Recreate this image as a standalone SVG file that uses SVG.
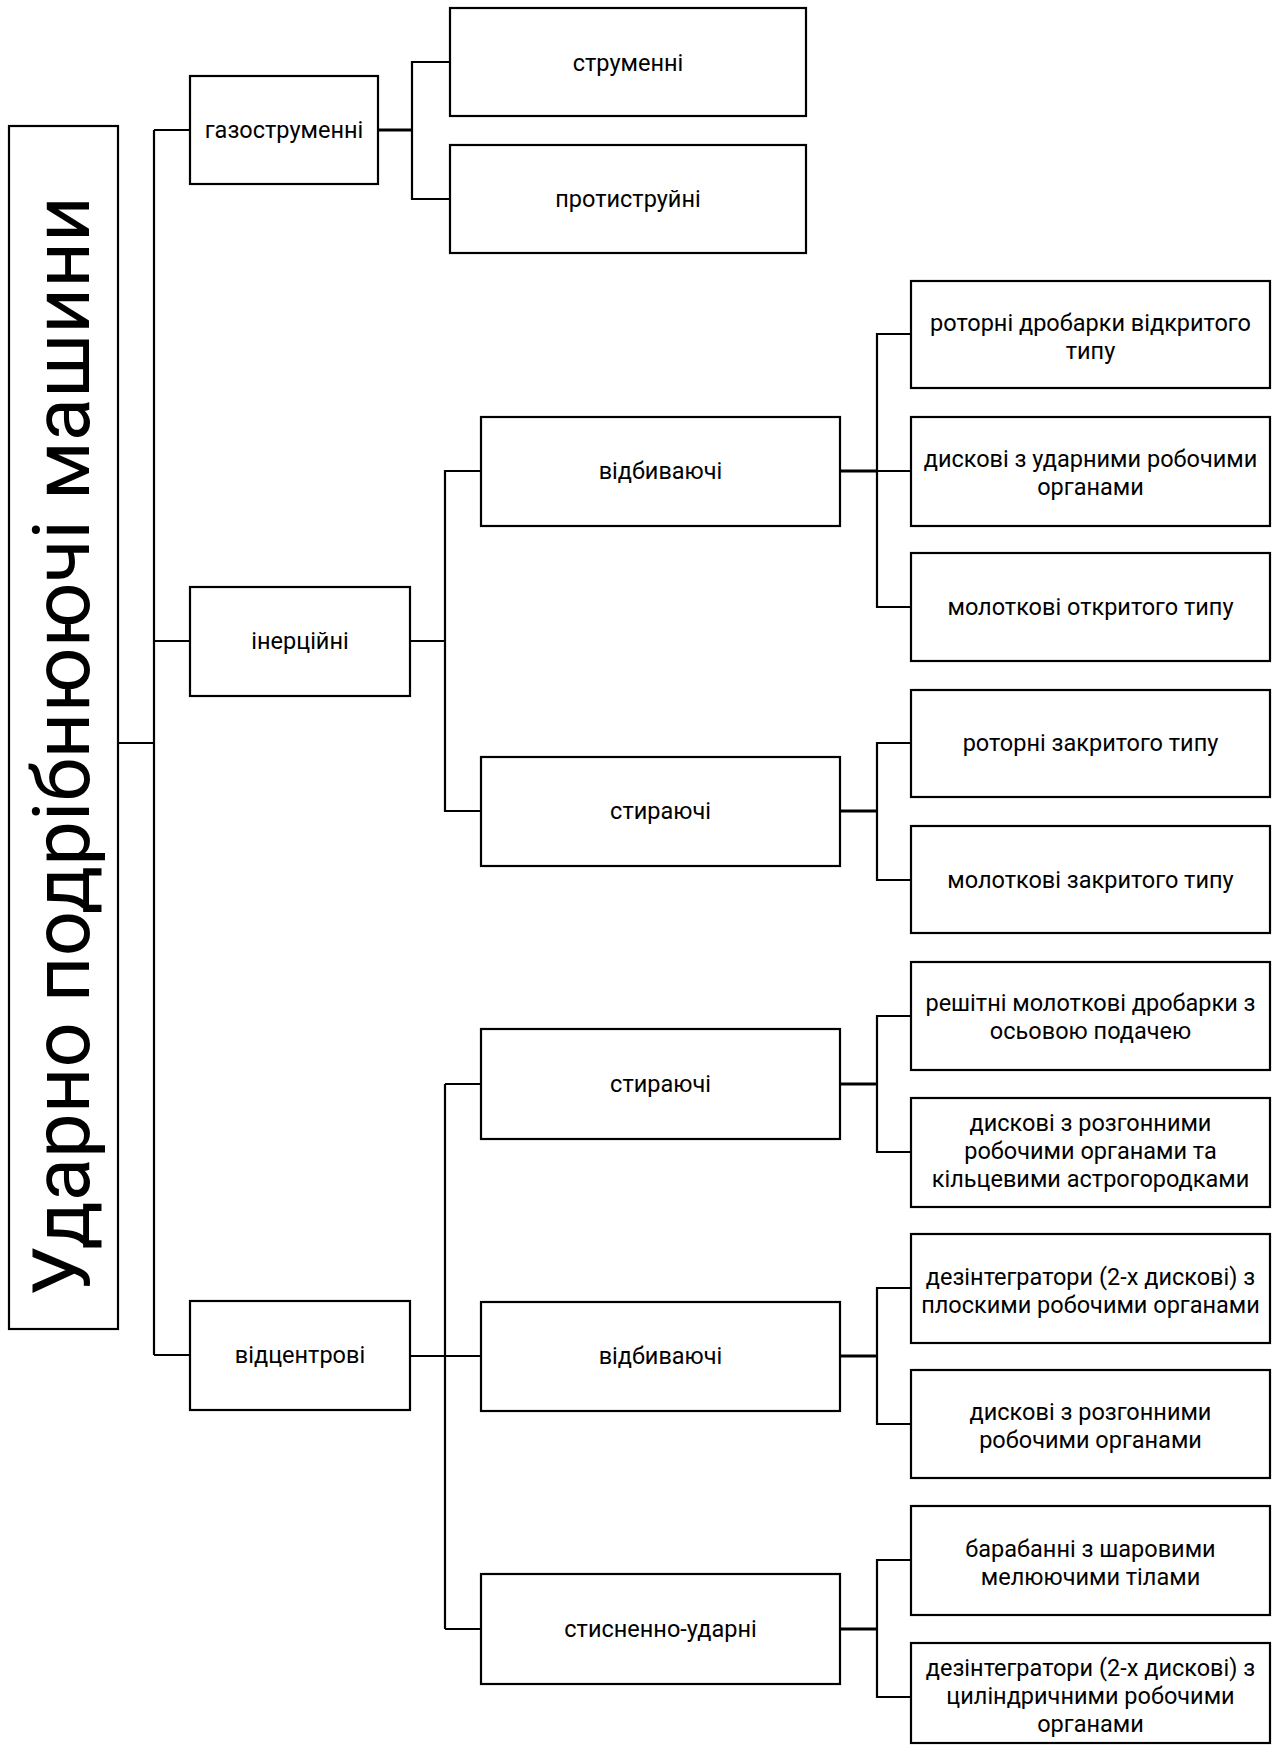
<svg xmlns="http://www.w3.org/2000/svg" width="1278" height="1746" viewBox="0 0 1278 1746">
<style>
.box{fill:#fff;stroke:#000;stroke-width:2.2}
.c{fill:none;stroke:#000;stroke-width:2.2}
.c2{fill:none;stroke:#000;stroke-width:3}
text{font-family:Roboto,"Open Sans","DejaVu Sans",sans-serif;font-size:23.5px;fill:#000;text-anchor:middle}
.title{font-size:80px}
</style>
<rect width="1278" height="1746" fill="#fff"/>
<g id="connectors">
<path class="c" d="M118 743H154M154 130V1355M154 130H190M154 641H190M154 1355H190"/>
<path class="c2" d="M378 130H412"/>
<path class="c" d="M450 62H412V199H450"/>
<path class="c" d="M410 641H445M481 471H445V811H481"/>
<path class="c2" d="M840 471H877"/>
<path class="c" d="M911 334H877V607H911M877 471H911"/>
<path class="c2" d="M840 811H877"/>
<path class="c" d="M911 743H877V880H911"/>
<path class="c" d="M410 1356H481M445 1084V1629M445 1084H481M445 1629H481"/>
<path class="c2" d="M840 1084H877"/>
<path class="c" d="M911 1016H877V1152H911"/>
<path class="c2" d="M840 1356H877"/>
<path class="c" d="M911 1288H877V1424H911"/>
<path class="c2" d="M840 1629H877"/>
<path class="c" d="M911 1560H877V1697H911"/>
</g>
<g id="title">
<rect class="box" x="9" y="126" width="109" height="1203"/>
<text class="title" transform="translate(89,746) rotate(-90)" textLength="1100" lengthAdjust="spacingAndGlyphs">Ударно подрібнюючі машини</text>
</g>
<g id="n-gaz"><rect class="box" x="190" y="76" width="188" height="108"/><text x="284" y="138">газоструменні</text></g>
<g id="n-inert"><rect class="box" x="190" y="587" width="220" height="109"/><text x="300" y="649">інерційні</text></g>
<g id="n-vidc"><rect class="box" x="190" y="1301" width="220" height="109"/><text x="300" y="1363">відцентрові</text></g>
<g id="n-strum"><rect class="box" x="450" y="8" width="356" height="108"/><text x="628" y="71">струменні</text></g>
<g id="n-proty"><rect class="box" x="450" y="145" width="356" height="108"/><text x="628" y="207">протиструйні</text></g>
<g id="n-m1"><rect class="box" x="481" y="417" width="359" height="109"/><text x="660.5" y="479">відбиваючі</text></g>
<g id="n-m2"><rect class="box" x="481" y="757" width="359" height="109"/><text x="660.5" y="819">стираючі</text></g>
<g id="n-m3"><rect class="box" x="481" y="1029" width="359" height="110"/><text x="660.5" y="1092">стираючі</text></g>
<g id="n-m4"><rect class="box" x="481" y="1302" width="359" height="109"/><text x="660.5" y="1364">відбиваючі</text></g>
<g id="n-m5"><rect class="box" x="481" y="1574" width="359" height="110"/><text x="660.5" y="1637">стисненно-ударні</text></g>
<g id="n-r1"><rect class="box" x="911" y="281" width="359" height="107"/><text x="1090.5" y="331">роторні дробарки відкритого</text><text x="1090.5" y="359">типу</text></g>
<g id="n-r2"><rect class="box" x="911" y="417" width="359" height="109"/><text x="1090.5" y="467">дискові з ударними робочими</text><text x="1090.5" y="495">органами</text></g>
<g id="n-r3"><rect class="box" x="911" y="553" width="359" height="108"/><text x="1090.5" y="615">молоткові откритого типу</text></g>
<g id="n-r4"><rect class="box" x="911" y="690" width="359" height="107"/><text x="1090.5" y="751">роторні закритого типу</text></g>
<g id="n-r5"><rect class="box" x="911" y="826" width="359" height="107"/><text x="1090.5" y="888">молоткові закритого типу</text></g>
<g id="n-r6"><rect class="box" x="911" y="962" width="359" height="108"/><text x="1090.5" y="1011">решітні молоткові дробарки з</text><text x="1090.5" y="1039">осьовою подачею</text></g>
<g id="n-r7"><rect class="box" x="911" y="1098" width="359" height="109"/><text x="1090.5" y="1131">дискові з розгонними</text><text x="1090.5" y="1159">робочими органами та</text><text x="1090.5" y="1187">кільцевими астрогородками</text></g>
<g id="n-r8"><rect class="box" x="911" y="1234" width="359" height="109"/><text x="1090.5" y="1285">дезінтегратори (2-х дискові) з</text><text x="1090.5" y="1313">плоскими робочими органами</text></g>
<g id="n-r9"><rect class="box" x="911" y="1370" width="359" height="108"/><text x="1090.5" y="1420">дискові з розгонними</text><text x="1090.5" y="1448">робочими органами</text></g>
<g id="n-r10"><rect class="box" x="911" y="1506" width="359" height="109"/><text x="1090.5" y="1557">барабанні з шаровими</text><text x="1090.5" y="1585">мелюючими тілами</text></g>
<g id="n-r11"><rect class="box" x="911" y="1643" width="359" height="100"/><text x="1090.5" y="1676">дезінтегратори (2-х дискові) з</text><text x="1090.5" y="1704">циліндричними робочими</text><text x="1090.5" y="1732">органами</text></g>
</svg>
